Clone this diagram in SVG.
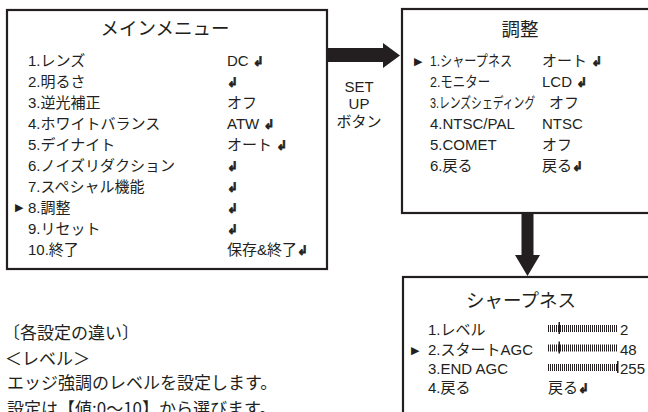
<svg xmlns="http://www.w3.org/2000/svg" width="648" height="412" viewBox="0 0 648 412">
<style>
.box{fill:#fff;stroke:#231f20;stroke-width:2.2}
.t{font-family:"Liberation Sans","Noto Sans CJK JP",sans-serif;font-size:15px;fill:#231f20}
.title{font-family:"Noto Sans CJK JP",sans-serif;font-size:18.5px;fill:#231f20;text-anchor:middle}
.body{font-family:"Noto Sans CJK JP",sans-serif;font-size:17px;fill:#231f20}
.ret{font-family:"DejaVu Sans",sans-serif;font-weight:bold;font-size:13px;stroke:#231f20;stroke-width:0.7}
.mk{font-family:"DejaVu Sans",sans-serif;font-size:11px;fill:#231f20}
.arrow{fill:#231f20}
.c{text-anchor:middle}
</style>
<defs>
<pattern id="ticks" x="0" y="0" width="2" height="20" patternUnits="userSpaceOnUse">
<rect x="0" y="0" width="1" height="20" fill="#231f20"/>
</pattern>
</defs>

<g id="main-menu">
<rect class="box" x="7" y="10" width="320" height="259"/>
<text class="title" x="165" y="35">メインメニュー</text>
<text class="t" x="28" y="66">1.レンズ</text>
<text class="t" x="28" y="87">2.明るさ</text>
<text class="t" x="28" y="108">3.逆光補正</text>
<text class="t" x="28" y="129">4.ホワイトバランス</text>
<text class="t" x="28" y="150">5.デイナイト</text>
<text class="t" x="28" y="170.5">6.ノイズリダクション</text>
<text class="t" x="28" y="191.5">7.スペシャル機能</text>
<text class="mk" x="15" y="211">▶</text>
<text class="t" x="28" y="212.5">8.調整</text>
<text class="t" x="28" y="233.5">9.リセット</text>
<text class="t" x="28" y="254.5">10.終了</text>
<text class="t" x="227" y="66">DC <tspan class="ret">↲</tspan></text>
<text class="t" x="227" y="87"><tspan class="ret">↲</tspan></text>
<text class="t" x="227" y="108">オフ</text>
<text class="t" x="227" y="129">ATW <tspan class="ret">↲</tspan></text>
<text class="t" x="227" y="150">オート <tspan class="ret">↲</tspan></text>
<text class="t" x="227" y="170.5"><tspan class="ret">↲</tspan></text>
<text class="t" x="227" y="191.5"><tspan class="ret">↲</tspan></text>
<text class="t" x="227" y="212.5"><tspan class="ret">↲</tspan></text>
<text class="t" x="227" y="233.5"><tspan class="ret">↲</tspan></text>
<text class="t" x="227" y="254.5">保存&amp;終了<tspan class="ret">↲</tspan></text>
</g>

<g id="adjust-menu">
<rect class="box" x="402" y="9" width="260" height="204"/>
<text class="title" x="520" y="36">調整</text>
<text class="mk" x="414" y="65">▶</text>
<text class="t" transform="translate(430,66) scale(0.81,1)">1.シャープネス</text>
<text class="t" transform="translate(430,87) scale(0.83,1)">2.モニター</text>
<text class="t" transform="translate(430,108) scale(0.72,1)">3.レンズシェディング</text>
<text class="t" x="430" y="129">4.NTSC/PAL</text>
<text class="t" x="430" y="150">5.COMET</text>
<text class="t" x="430" y="170.5">6.戻る</text>
<text class="t" x="542" y="66">オート <tspan class="ret">↲</tspan></text>
<text class="t" x="542" y="87">LCD <tspan class="ret">↲</tspan></text>
<text class="t" x="549" y="108">オフ</text>
<text class="t" x="542" y="129">NTSC</text>
<text class="t" x="542" y="150">オフ</text>
<text class="t" x="542" y="170.5">戻る<tspan class="ret">↲</tspan></text>
</g>

<g id="sharpness-menu">
<rect class="box" x="403" y="277" width="260" height="150"/>
<text class="title" x="521" y="307">シャープネス</text>
<text class="t" x="428" y="335">1.レベル</text>
<text class="mk" x="411" y="353.5">▶</text>
<text class="t" x="428" y="354.5">2.スタートAGC</text>
<text class="t" x="428" y="374">3.END AGC</text>
<text class="t" x="428" y="393">4.戻る</text>
<rect x="548" y="325" width="70" height="7" fill="url(#ticks)"/>
<rect x="558.5" y="322" width="1.5" height="12" fill="#231f20"/>
<text class="t" x="620" y="335">2</text>
<rect x="548" y="344.5" width="70" height="7" fill="url(#ticks)"/>
<rect x="558.5" y="341.5" width="1.5" height="12" fill="#231f20"/>
<text class="t" x="620" y="354.5">48</text>
<rect x="548" y="364" width="70" height="7" fill="url(#ticks)"/>
<rect x="617" y="361" width="1.5" height="12" fill="#231f20"/>
<text class="t" x="620" y="374">255</text>
<text class="t" x="548" y="393">戻る<tspan class="ret">↲</tspan></text>
</g>

<g id="connectors">
<polygon class="arrow" points="328,48 383,48 383,43 400,55.5 383,68 383,62 328,62"/>
<text class="t c" x="359" y="92">SET</text>
<text class="t c" x="359" y="109">UP</text>
<text class="t c" x="359" y="127">ボタン</text>
<polygon class="arrow" points="521.5,214 533.5,214 533.5,255 540,255 527.5,276 515,255 521.5,255"/>
</g>

<g id="notes">
<text class="body" x="3" y="339">〔各設定の違い〕</text>
<text class="body" x="5" y="364.5">＜レベル＞</text>
<text class="body" x="7" y="389">エッジ強調のレベルを設定します。</text>
<text class="body" x="7" y="414.5">設定は【値:0～10】から選びます。</text>
</g>
</svg>
